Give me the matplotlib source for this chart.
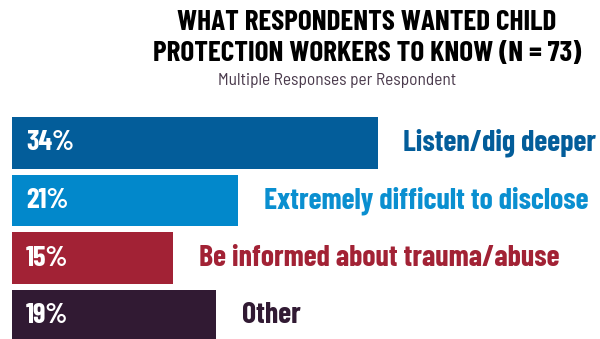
import matplotlib
matplotlib.use("Agg")
import matplotlib.pyplot as plt

categories = ["Listen/dig deeper", "Extremely difficult to disclose",
              "Be informed about trauma/abuse", "Other"]
values = [34, 21, 15, 19]
bar_colors = ["#035D9A", "#0288CB", "#A22235", "#311A33"]
text_colors = ["#035D9A", "#0A8FD0", "#A22235", "#311A33"]

fam = ["Barlow Condensed", "DejaVu Sans"]

fig = plt.figure(figsize=(6, 3.39), dpi=100)
ax = fig.add_axes([0, 0, 1, 1])
px = 10.75  # pixels per percent
ax.set_xlim(-12 / px, (600 - 12) / px)
ax.set_ylim((339 - 143) / 57.5, -143 / 57.5)
ax.axis("off")

ypos = list(range(len(values)))
ax.barh(ypos, values, height=0.9, color=bar_colors)
for y, v, lab, c in zip(ypos, values, categories, text_colors):
    ax.text(1.3, y, f"{v}%", color="white", fontsize=20.5, fontweight="bold",
            family=fam, va="center", ha="left")
    ax.text(v + 2.4, y, lab, color=c, fontsize=21.5, fontweight="bold",
            family=fam, va="center", ha="left")

fig.text(367 / 600, 1 - 23 / 339, "WHAT RESPONDENTS WANTED CHILD", ha="center",
         va="center", fontsize=21, fontweight="bold", family=fam, color="black")
fig.text(367 / 600, 1 - 53 / 339, "PROTECTION WORKERS TO KNOW (N = 73)", ha="center",
         va="center", fontsize=21, fontweight="bold", family=fam, color="black")
fig.text(337 / 600, 1 - 80 / 339, "Multiple Responses per Respondent", ha="center",
         va="center", fontsize=12.5, family=["Barlow Semi Condensed", "DejaVu Sans"],
         color="#4a3a4c")

fig.savefig("out.png", dpi=100)
